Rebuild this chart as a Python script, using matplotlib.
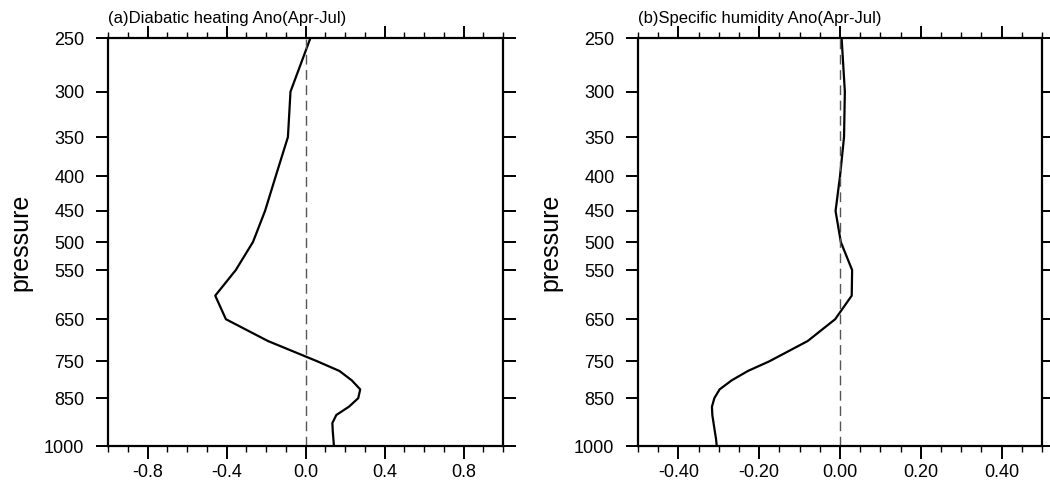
import numpy as np
import matplotlib
matplotlib.use('Agg')
import matplotlib.pyplot as plt
from matplotlib.ticker import FixedLocator, MultipleLocator, NullLocator, FixedFormatter

plt.rcParams['font.family'] = ['Liberation Sans', 'DejaVu Sans']

# уровни давления (гПа)
levels = [250, 300, 350, 400, 450, 500, 550, 600, 650, 700, 750,
          775, 800, 825, 850, 875, 900, 925, 950, 975, 1000]

# (a) аномалия диабатического нагрева
heating = [0.025, -0.076, -0.089, -0.151, -0.205, -0.266, -0.353, -0.457, -0.403,
           -0.19, 0.06, 0.172, 0.234, 0.277, 0.267, 0.22, 0.156, 0.136, 0.138, 0.141, 0.144]

# (b) аномалия удельной влажности
humidity = [0.004, 0.012, 0.010, 0.000, -0.011, 0.002, 0.030, 0.029, -0.012,
            -0.080, -0.175, -0.228, -0.268, -0.298, -0.311, -0.317, -0.316, -0.313,
            -0.310, -0.307, -0.305]

ytick_vals = [250, 300, 350, 400, 450, 500, 550, 650, 750, 850, 1000]

titles = ['(a)Diabatic heating Ano(Apr-Jul)', '(b)Specific humidity Ano(Apr-Jul)']

fig = plt.figure(figsize=(10.5, 4.9), dpi=100)
ax1 = fig.add_axes([108 / 1050, 1 - 446 / 490, 395 / 1050, 408 / 490])
ax2 = fig.add_axes([638 / 1050, 1 - 446 / 490, 404 / 1050, 408 / 490])


def style_axis(ax, title):
    ax.set_yscale('log')
    ax.set_ylim(1000, 250)
    ax.yaxis.set_major_locator(FixedLocator(ytick_vals))
    ax.yaxis.set_major_formatter(FixedFormatter([str(v) for v in ytick_vals]))
    ax.yaxis.set_minor_locator(NullLocator())
    for s in ax.spines.values():
        s.set_linewidth(1.6)
    ax.tick_params(axis='both', which='both', direction='out', width=1.4,
                   top=True, right=True, labelsize=13)
    ax.tick_params(axis='y', which='major', length=9, pad=8)
    ax.tick_params(axis='x', which='major', length=9, pad=4)
    ax.tick_params(axis='x', which='minor', length=4.5, width=1.0)
    ax.set_ylabel('pressure', fontsize=18, labelpad=8)
    ax.set_title(title, loc='left', fontsize=12, pad=11)
    ax.axvline(0, color='#555555', lw=1.0, dashes=(7, 4))


# панель (a)
ax1.plot(heating, levels, color='black', lw=1.6)
style_axis(ax1, titles[0])
ax1.set_xlim(-1.0, 1.0)
ax1.xaxis.set_major_locator(FixedLocator([-0.8, -0.4, 0.0, 0.4, 0.8]))
ax1.xaxis.set_major_formatter(FixedFormatter(['-0.8', '-0.4', '0.0', '0.4', '0.8']))
ax1.xaxis.set_minor_locator(MultipleLocator(0.1))

# панель (b)
ax2.plot(humidity, levels, color='black', lw=1.6)
style_axis(ax2, titles[1])
ax2.set_xlim(-0.5, 0.5)
ax2.xaxis.set_major_locator(FixedLocator([-0.4, -0.2, 0.0, 0.2, 0.4]))
ax2.xaxis.set_major_formatter(FixedFormatter(['-0.40', '-0.20', '0.00', '0.20', '0.40']))
ax2.xaxis.set_minor_locator(MultipleLocator(0.05))

plt.savefig('out.png', dpi=100)
